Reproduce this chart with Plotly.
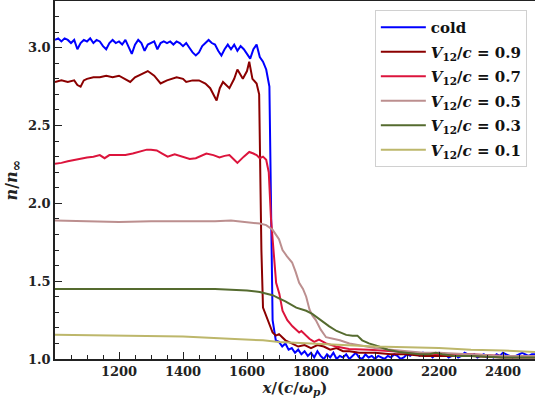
import plotly.graph_objects as go

# ---- data ----
cold_x = list(range(1000, 2501, 10))
cold_y = [3.05, 3.06, 3.04, 3.06, 3.05, 3.03, 3.05, 2.99, 3.03, 3.05,
          3.04, 3.06, 3.03, 3.05, 3.04, 3.01, 2.99, 3.03, 3.05, 3.03,
          3.04, 3.02, 3.05, 3.00, 2.96, 3.02, 3.05, 3.03, 2.98, 3.02,
          3.03, 3.04, 2.99, 3.03, 3.04, 3.03, 3.04, 3.02, 3.04, 3.03,
          3.01, 3.03, 3.00, 2.97, 2.95, 2.97, 3.01, 3.03, 3.05, 3.03,
          3.02, 2.98, 2.95, 2.99, 3.02, 2.99, 3.02, 2.98, 3.01, 2.99,
          2.96, 2.93, 2.99, 3.02, 2.94, 2.91, 2.86, 2.75, 1.25, 1.12,
          1.11, 1.08, 1.10, 1.06, 1.07, 1.04, 1.06, 1.03, 1.05, 1.02,
          1.04, 1.01, 1.05, 1.02, 1.00, 1.03, 1.01, 1.04, 1.00, 1.02,
          1.01, 1.03, 1.00, 1.02, 1.04, 1.01, 1.00, 1.03, 1.01, 1.02,
          1.00, 1.02, 1.01, 1.00, 1.02, 1.01, 1.03, 1.02, 1.00, 1.01,
          1.03, 1.02, 1.04, 1.03, 1.02, 1.04, 1.02, 1.03, 1.01, 1.03,
          1.04, 1.02, 1.03, 1.01, 1.02, 1.03, 1.01, 1.02, 1.04, 1.03,
          1.02, 1.03, 1.01, 1.02, 1.03, 1.01, 1.02, 1.01, 1.03, 1.02,
          1.04, 1.03, 1.02, 1.01, 1.02, 1.03, 1.04, 1.03, 1.02, 1.03,
          1.03]

v09_x = [1000, 1020, 1040, 1060, 1070, 1080, 1090, 1100, 1120, 1140, 1160, 1180,
         1200, 1220, 1235, 1250, 1270, 1290, 1310, 1330, 1350, 1380, 1400, 1410,
         1430, 1450, 1470, 1485, 1500, 1505, 1515, 1525, 1545, 1560, 1570, 1587,
         1600, 1607, 1617, 1630, 1638, 1645, 1650, 1660, 1670, 1680, 1690, 1700,
         1710, 1720, 1740, 1760, 1780, 1800, 1820, 1840, 1860, 1880, 1900, 1920,
         1950, 2000, 2050, 2100, 2150, 2200, 2300, 2400, 2500]
v09_y = [2.78, 2.79, 2.78, 2.79, 2.76, 2.75, 2.79, 2.80, 2.81, 2.81, 2.82, 2.81,
         2.82, 2.80, 2.78, 2.81, 2.83, 2.85, 2.82, 2.77, 2.79, 2.81, 2.80, 2.78,
         2.79, 2.79, 2.77, 2.74, 2.68, 2.66, 2.74, 2.78, 2.74, 2.80, 2.86, 2.80,
         2.85, 2.91, 2.80, 2.77, 2.70, 1.70, 1.33, 1.28, 1.22, 1.17, 1.15, 1.16,
         1.14, 1.12, 1.10, 1.08, 1.09, 1.07, 1.09, 1.08, 1.06, 1.07, 1.05, 1.05,
         1.04, 1.04, 1.03, 1.03, 1.02, 1.02, 1.02, 1.01, 1.01]

v07_x = [1000, 1020, 1040, 1060, 1080, 1100, 1120, 1140, 1155, 1170, 1200, 1220,
         1243, 1260, 1287, 1300, 1318, 1335, 1352, 1374, 1395, 1421, 1440, 1473,
         1495, 1514, 1530, 1545, 1560, 1570, 1590, 1607, 1620, 1630, 1640, 1650,
         1660, 1668, 1675, 1685, 1691, 1701, 1711, 1726, 1742, 1763, 1770, 1795,
         1810, 1825, 1847, 1878, 1919, 1981, 2050, 2100, 2200, 2300, 2400, 2500]
v07_y = [2.255, 2.26, 2.27, 2.28, 2.29, 2.295, 2.30, 2.31, 2.29, 2.31, 2.31, 2.31,
         2.32, 2.33, 2.345, 2.345, 2.34, 2.32, 2.30, 2.315, 2.30, 2.285, 2.29, 2.32,
         2.31, 2.295, 2.305, 2.31, 2.28, 2.26, 2.30, 2.33, 2.32, 2.31, 2.29, 2.30,
         2.28, 2.20, 1.90, 1.60, 1.49, 1.42, 1.31, 1.25, 1.21, 1.17, 1.18, 1.13,
         1.11, 1.125, 1.10, 1.08, 1.065, 1.06, 1.05, 1.04, 1.03, 1.03, 1.02, 1.02]

v05_x = [1000, 1100, 1200, 1300, 1400, 1500, 1550, 1600, 1640, 1660, 1680, 1700,
         1711, 1725, 1741, 1752, 1763, 1775, 1785, 1795, 1804, 1815, 1830, 1847,
         1870, 1890, 1920, 1950, 2000, 2050, 2100, 2150, 2200, 2300, 2400, 2500]
v05_y = [1.89, 1.885, 1.88, 1.885, 1.885, 1.885, 1.89, 1.88, 1.87, 1.86, 1.83, 1.77,
         1.70, 1.66, 1.62, 1.56, 1.49, 1.45, 1.40, 1.32, 1.28, 1.25, 1.19, 1.14,
         1.13, 1.12, 1.10, 1.09, 1.07, 1.06, 1.05, 1.04, 1.04, 1.03, 1.02, 1.02]

v03_x = [1000, 1100, 1200, 1300, 1400, 1500, 1550, 1600, 1640, 1680, 1700, 1720,
         1754, 1785, 1804, 1830, 1857, 1880, 1910, 1930, 1945, 1960, 1981, 2012,
         2040, 2075, 2100, 2140, 2170, 2190, 2210, 2250, 2300, 2400, 2500]
v03_y = [1.45, 1.45, 1.45, 1.45, 1.45, 1.45, 1.445, 1.44, 1.43, 1.41, 1.39, 1.37,
         1.33, 1.31, 1.29, 1.25, 1.21, 1.18, 1.155, 1.15, 1.15, 1.12, 1.10, 1.08,
         1.06, 1.045, 1.04, 1.03, 1.03, 1.04, 1.03, 1.02, 1.02, 1.01, 1.01]

v01_x = [1000, 1200, 1400, 1545, 1650, 1700, 1800, 1920, 2000, 2100, 2200, 2300,
         2400, 2500]
v01_y = [1.155, 1.15, 1.145, 1.13, 1.12, 1.11, 1.10, 1.09, 1.08, 1.075, 1.07, 1.06,
         1.055, 1.045]

series_names = ["cold",
                "<i>V</i><sub>12</sub>/<i>c</i> = 0.9",
                "<i>V</i><sub>12</sub>/<i>c</i> = 0.7",
                "<i>V</i><sub>12</sub>/<i>c</i> = 0.5",
                "<i>V</i><sub>12</sub>/<i>c</i> = 0.3",
                "<i>V</i><sub>12</sub>/<i>c</i> = 0.1"]
series_x = [cold_x, v09_x, v07_x, v05_x, v03_x, v01_x]
series_y = [cold_y, v09_y, v07_y, v05_y, v03_y, v01_y]
colors = ["#0000FF", "#8B0000", "#DC143C", "#BC8F8F", "#556B2F", "#BDB76B"]

x_ticks = [1200, 1400, 1600, 1800, 2000, 2200, 2400]
y_ticks = [1.0, 1.5, 2.0, 2.5, 3.0]
y_tick_labels = ["1.0", "1.5", "2.0", "2.5", "3.0"]

FONT = "DejaVu Serif"

fig = go.Figure()
for i, (name, xs, ys, col) in enumerate(zip(series_names, series_x, series_y, colors)):
    fig.add_trace(go.Scatter(x=xs, y=ys, mode="lines", name=name,
                             legendgroup=f"g{i}",
                             line=dict(color=col, width=2)))

axis_common = dict(
    showgrid=False, zeroline=False, showline=True, linecolor="#222",
    linewidth=1.5, mirror=True, ticks="inside", ticklen=7, tickwidth=1.2,
    tickcolor="#222", automargin=False,
    tickfont=dict(family=FONT, size=13, weight="bold", color="#222"),
)

fig.update_layout(
    width=535, height=407,
    margin=dict(l=55, r=0, t=1, b=48),
    paper_bgcolor="white", plot_bgcolor="white",
    xaxis=dict(range=[1000, 2500], tickvals=x_ticks,
               minor=dict(dtick=50, ticks="inside", ticklen=4, tickcolor="#222"),
               title=dict(text="<i>x</i>/(<i>c</i>/<i>ω</i><sub><i>p</i></sub>)",
                          font=dict(family=FONT, size=15, weight="bold", color="#222"),
                          standoff=4),
               **axis_common),
    yaxis=dict(range=[1.0, 3.3], tickvals=y_ticks, ticktext=y_tick_labels,
               minor=dict(dtick=0.1, ticks="inside", ticklen=4, tickcolor="#222"),
               title=dict(text="<i>n</i>/<i>n</i><sub><span style='font-size:14px'>∞</span></sub>",
                          font=dict(family=FONT, size=16, weight="bold", color="#222"),
                          standoff=6),
               **axis_common),
    legend=dict(x=0.983, y=0.975, xanchor="right", yanchor="top",
                bgcolor="white", bordercolor="#d0d0d0", borderwidth=1,
                font=dict(family=FONT, size=15, weight="bold", color="#111"),
                tracegroupgap=2, itemwidth=45),
    showlegend=True,
)

fig.write_html("out.html", config={"displayModeBar": False},
               post_script="document.body.style.margin='0px';document.body.style.overflow='hidden';")
